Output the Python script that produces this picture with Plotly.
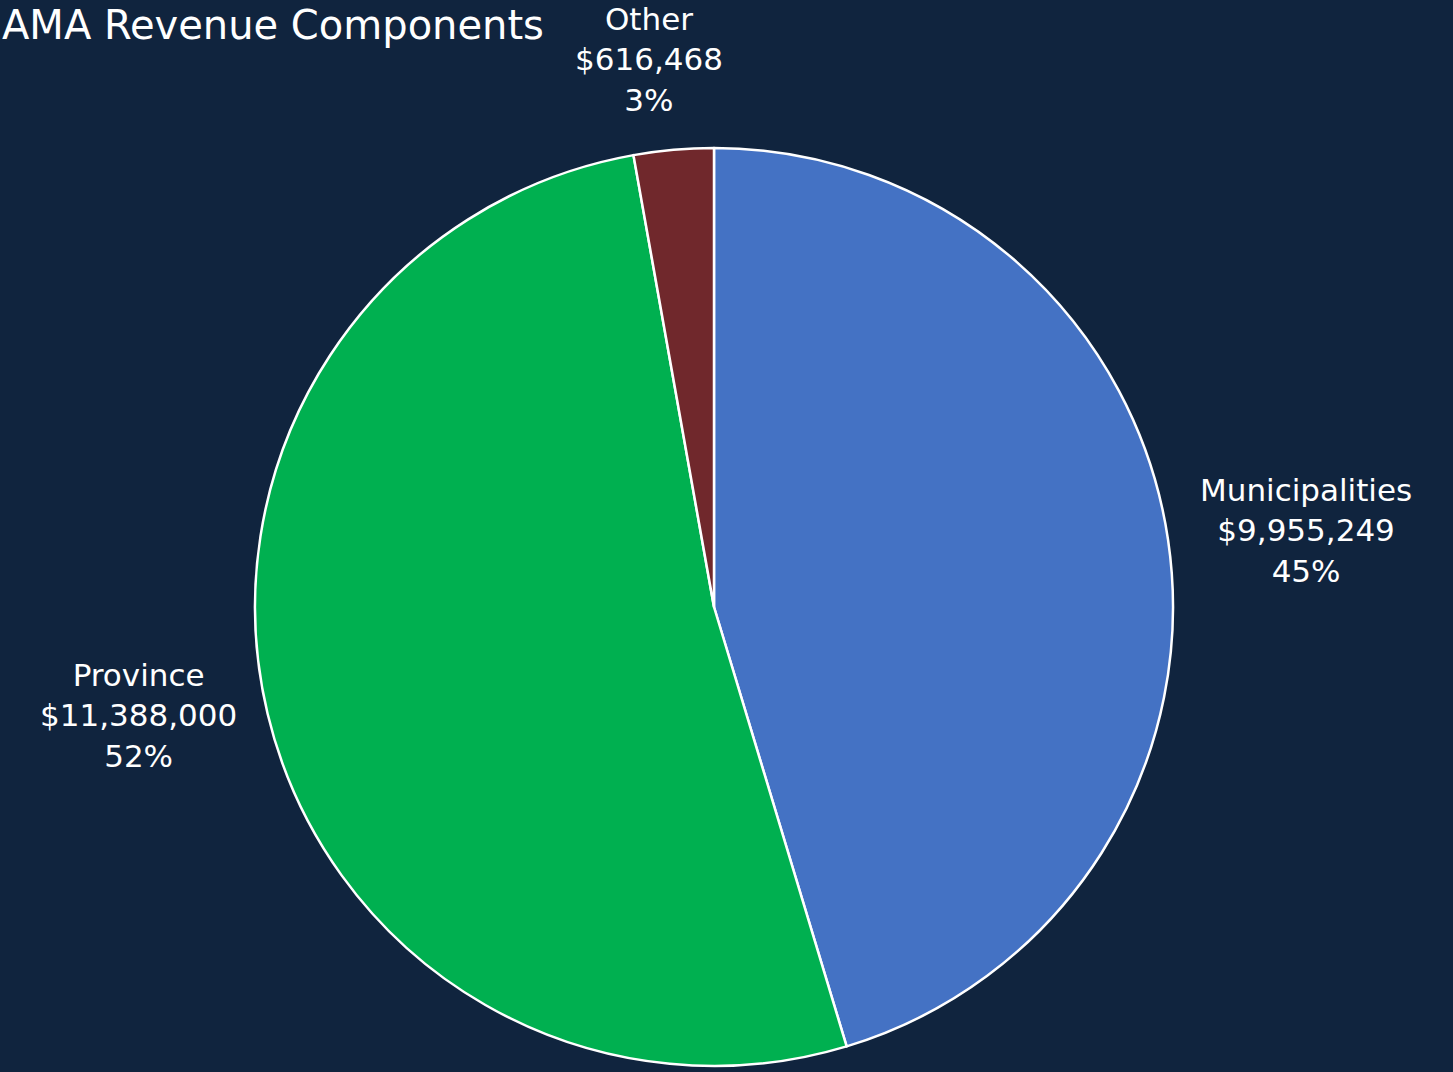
import math
import plotly.graph_objects as go

categories = ["Municipalities", "Province", "Other"]
values = [9955249, 11388000, 616468]
colors = ["#4472C4", "#00B050", "#70282C"]
title_text = "AMA Revenue Components"

W, H = 1453, 1072
BG = "#10243E"
FONT = "DejaVu Sans"

# pie geometry (pixels)
cx, cy, r = 714, 607, 459
dom_x = [(cx - r) / W, (cx + r) / W]
dom_y = [(H - cy - r) / H, (H - cy + r) / H]

fig = go.Figure(go.Pie(
    labels=categories,
    values=values,
    sort=False,
    direction="clockwise",
    rotation=0,
    marker=dict(colors=colors, line=dict(color="white", width=2.5)),
    textinfo="none",
    hoverinfo="label+value+percent",
    showlegend=False,
    domain=dict(x=dom_x, y=dom_y),
))

total = sum(values)
cum = 0
annotations = []
for lab, v in zip(categories, values):
    frac_mid = (cum + v / 2) / total
    cum += v
    ang = 2 * math.pi * frac_mid
    dx, dy = math.sin(ang), math.cos(ang)  # dy up-positive
    rr = r * 1.065
    px = cx + rr * dx
    py = (H - cy) + rr * dy
    if abs(dx) >= abs(dy):
        xa = "left" if dx > 0 else "right"
        ya = "middle"
        xs, ys = 0, 5
    else:
        xa = "center"
        ya = "bottom" if dy > 0 else "top"
        xs, ys = -22, 0
    pct = round(100 * v / total)
    annotations.append(dict(
        x=px / W, y=py / H, xref="paper", yref="paper",
        xanchor=xa, yanchor=ya, xshift=xs, yshift=ys, showarrow=False, align="center",
        text=f"{lab}<br>${v:,}<br>{pct}%",
        font=dict(family=FONT, size=31, color="white"),
    ))

annotations.append(dict(
    x=0.0, y=1.0, xref="paper", yref="paper", xanchor="left", yanchor="top",
    showarrow=False, text=title_text,
    font=dict(family=FONT, size=40, color="white"),
))

fig.update_layout(
    width=W, height=H,
    margin=dict(l=0, r=0, t=0, b=0),
    paper_bgcolor=BG, plot_bgcolor=BG,
    annotations=annotations,
)

fig.write_html(
    "out.html",
    config={"displayModeBar": False},
    post_script="document.body.style.margin='0';document.body.style.background='#10243E';",
)
